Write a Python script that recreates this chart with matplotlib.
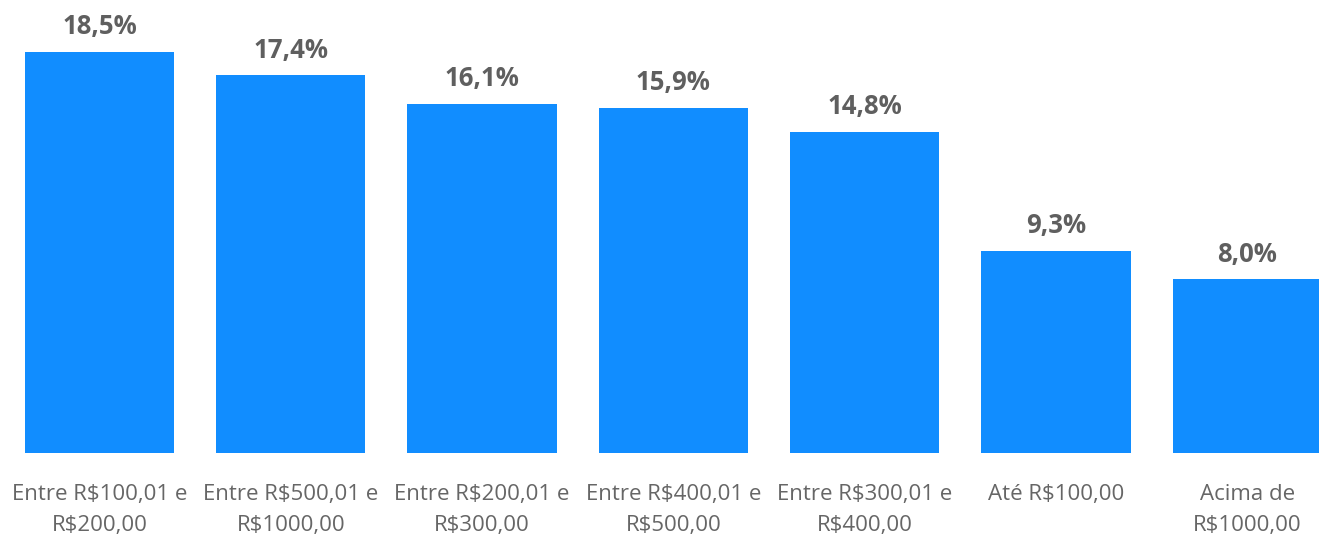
import matplotlib
matplotlib.use('Agg')
import matplotlib.pyplot as plt

# faixas de valor e percentual de cada uma
categories = ['Entre R$100,01 e\nR$200,00', 'Entre R$500,01 e\nR$1000,00',
              'Entre R$200,01 e\nR$300,00', 'Entre R$400,01 e\nR$500,00',
              'Entre R$300,01 e\nR$400,00', 'Até R$100,00',
              'Acima de\nR$1000,00']
values = [18.5, 17.4, 16.1, 15.9, 14.8, 9.3, 8.0]
labels = ['18,5%', '17,4%', '16,1%', '15,9%', '14,8%', '9,3%', '8,0%']

W, H = 1319, 536
fig = plt.figure(figsize=(W / 100, H / 100), dpi=100)

## axes geometry measured in pixels from the reference
#
step = 191.3
left_px = 99.5 - step / 2
bottom_px = 453
ax = fig.add_axes([left_px / W, (H - bottom_px) / H, 7 * step / W, bottom_px / H])

x = list(range(len(values)))
bars = ax.bar(x, values, width=0.78, color='#118DFF')
ax.set_xlim(-0.5, 6.5)
ax.set_ylim(0, bottom_px / 21.7)

for b, lab in zip(bars, labels):
    ax.annotate(lab, (b.get_x() + b.get_width() / 2, b.get_height()),
                xytext=(0, 8.5), textcoords='offset points', ha='center', va='bottom',
                fontsize=18.5, fontweight='bold', color='#5f5f5f', family='Open Sans')

ax.set_xticks(x)
ax.set_xticklabels(categories, fontsize=16, color='#666666', family='Open Sans',
                   linespacing=1.6, va='top')
ax.tick_params(axis='x', length=0, pad=22.5)
ax.set_yticks([])
for s in ax.spines.values():
    s.set_visible(False)

fig.savefig('out.png', dpi=100)
